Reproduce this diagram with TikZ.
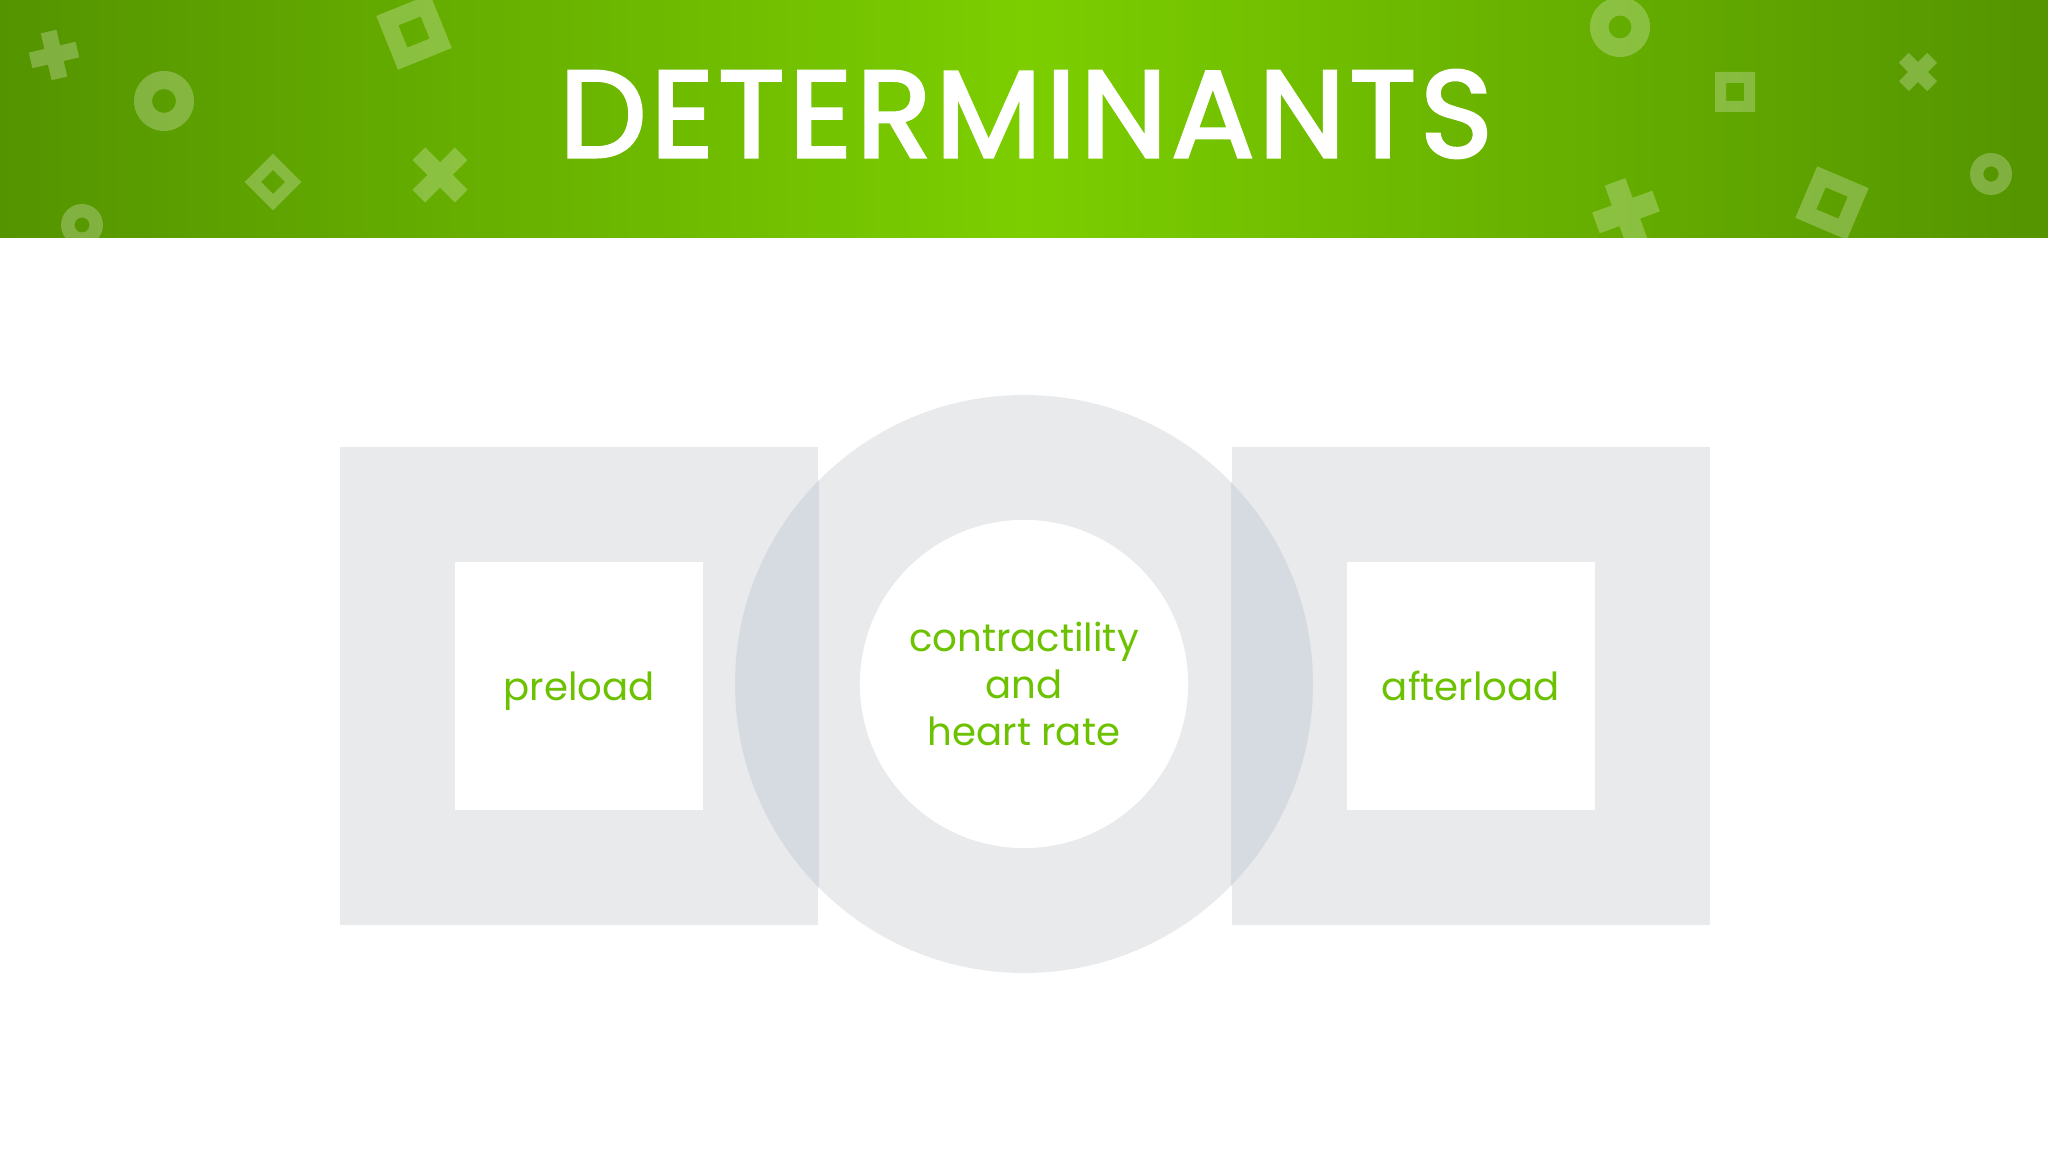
\documentclass[tikz,border=0pt]{standalone}
\usepackage{fontspec}
\setmainfont{Poppins}
\newfontfamily\titlefont[FakeBold=2.5, LetterSpace=3.5]{Poppins}
\usepackage{xcolor}
\usetikzlibrary{positioning}

\definecolor{leafgreen}{RGB}{108,194,0}
\definecolor{bandedge}{RGB}{84,148,0}
\definecolor{bandmid}{RGB}{124,206,0}
\definecolor{boxgray}{RGB}{232,234,236}
\definecolor{mixgray}{RGB}{213,219,224}

\tikzset{
  deco/.style={fill=white, fill opacity=0.25},
  outerbox/.style={rectangle, fill=boxgray, minimum size=4.78cm, inner sep=0pt},
  innerbox/.style={rectangle, fill=white, minimum size=2.47cm, inner sep=0pt,
                   text depth=0pt, text=leafgreen, font=\fontsize{11}{13.4}\selectfont},
}

\begin{document}
\begin{tikzpicture}[x=0.01cm, y=0.01cm]
  \useasboundingbox (0,0) rectangle (2048,1152);
  \fill[white] (0,0) rectangle (2048,1152);

  % header band
  \shade[left color=bandedge, right color=bandedge, middle color=bandmid]
    (0,914) rectangle (2048,1152);
  \begin{scope}
    \clip (0,914) rectangle (2048,1152);
    % rings
    \fill[deco, even odd rule] (164,1051) circle (30) (164,1051) circle (12);
    \fill[deco, even odd rule] (82,927) circle (21) (82,927) circle (7.5);
    \fill[deco, even odd rule] (1620,1125) circle (30) (1620,1125) circle (11.5);
    \fill[deco, even odd rule] (1991,978) circle (21) (1991,978) circle (7.7);
    % hollow squares
    \fill[deco, even odd rule, shift={(414,1120)}, rotate=22]
      (-29,-29) rectangle (29,29) (-12,-12) rectangle (12,12);
    \fill[deco, even odd rule, shift={(273,970)}, rotate=45]
      (-20,-20) rectangle (20,20) (-8.5,-8.5) rectangle (8.5,8.5);
    \fill[deco, even odd rule, shift={(1735,1060)}]
      (-20,-20) rectangle (20,20) (-9,-9) rectangle (9,9);
    \fill[deco, even odd rule, shift={(1832,949)}, rotate=-23]
      (-28,-28) rectangle (28,28) (-12,-12) rectangle (12,12);
    % crosses
    \fill[deco, shift={(54,1097)}, rotate=13]
      (-24,-8) rectangle (24,8) (-8,-24) rectangle (8,24);
    \fill[deco, shift={(440,977)}, rotate=45]
      (-30,-9) rectangle (30,9) (-9,-30) rectangle (9,30);
    \fill[deco, shift={(1918,1080)}, rotate=45]
      (-20,-7) rectangle (20,7) (-7,-20) rectangle (7,20);
    \fill[deco, shift={(1626,940)}, rotate=20]
      (-32,-11) rectangle (32,11) (-11,-32) rectangle (11,32);
  \end{scope}
  \node[text=white, font=\fontsize{35}{40}\titlefont] (title) at (1026,1038) {DETERMINANTS};

  % three determinants
  \node[outerbox] (preloadbox) at (579,466) {};
  \node[outerbox, right=4.12cm of preloadbox] (afterloadbox) {};
  \fill[boxgray] (1024,468) circle (289);
  \begin{scope}
    \clip (1024,468) circle (289);
    \fill[mixgray] (preloadbox.south west) rectangle (preloadbox.north east);
    \fill[mixgray] (afterloadbox.south west) rectangle (afterloadbox.north east);
  \end{scope}
  \node[innerbox] (preload) at (preloadbox) {preload};
  \node[innerbox] (afterload) at (afterloadbox) {afterload};
  \node[innerbox, circle, minimum size=3.28cm, align=center] (contract) at (1024,468)
    {contractility\\and\\heart rate};
\end{tikzpicture}
\end{document}
